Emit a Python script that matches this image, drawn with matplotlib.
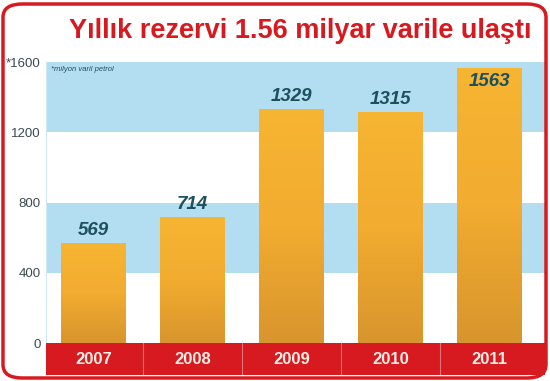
import matplotlib.pyplot as plt
import numpy as np
from matplotlib.patches import FancyBboxPatch, Rectangle
from matplotlib.colors import LinearSegmentedColormap

years = ["2007", "2008", "2009", "2010", "2011"]
reserves = [569, 714, 1329, 1315, 1563]
tick_vals = [0, 400, 800, 1200, 1600]
tick_labels = ["0", "400", "800", "1200", "*1600"]
bands = [(400, 800), (1200, 1600)]

RED = "#d71920"
TEAL = "#1d4f5c"
FONT = ["Liberation Sans", "DejaVu Sans"]

W, H = 550, 381
fig = plt.figure(figsize=(W / 100, H / 100), dpi=100)

# outer rounded frame (drawn on top, no fill)
frame = FancyBboxPatch((3 / W, 3 / H), 543 / W, 374 / H,
                       boxstyle="round,pad=0,rounding_size=0.035",
                       transform=fig.transFigure, facecolor="none",
                       edgecolor=RED, linewidth=2.5, zorder=5)
fig.patches.append(frame)

fig.text(300 / W, 1 - 31 / H, "Yıllık rezervi 1.56 milyar varile ulaştı",
         ha="center", va="center", color=RED, fontsize=19.5,
         fontweight="bold", family=FONT)

x = np.arange(len(years))
ax = fig.add_axes([46 / W, 1 - 343 / H, 499 / W, 281 / H])
for lo, hi in bands:
    ax.axhspan(lo, hi, color="#b3def2", zorder=0, lw=0)

# orange bars with a vertical gradient
grad = np.linspace(0, 1, 256).reshape(-1, 1)
cmap = LinearSegmentedColormap.from_list("org", ["#d8952d", "#f2ac30", "#f6b532"])
bw = 0.65
for xi, v in zip(x, reserves):
    ax.imshow(grad, extent=(xi - bw / 2, xi + bw / 2, 0, v), origin="lower",
              aspect="auto", cmap=cmap, zorder=2)
    # the tallest bar has its label tucked inside, as in the original
    inside = v > 1500
    ax.text(xi, v - 25 if inside else v + 25, str(v), ha="center",
            va="top" if inside else "bottom", fontsize=13.5,
            fontweight="bold", style="italic", color=TEAL, family=FONT,
            zorder=3)
ax.set_xlim(-0.48, 4.56)
ax.set_ylim(0, 1600)

ax.text(-0.43, 1575, "*milyon varil petrol", fontsize=5.5, style="italic",
        color=TEAL, family=FONT, va="top", ha="left")

ax.set_yticks(tick_vals)
ax.set_yticklabels(tick_labels, family=FONT, fontsize=9.5, color="#3a4a4f")
ax.set_xticks([])
ax.tick_params(axis="y", length=0, pad=4)
for s in ["top", "right", "bottom"]:
    ax.spines[s].set_visible(False)
ax.spines["left"].set_color("#cfe8f3")

# red category strip
cax = fig.add_axes([46 / W, 1 - 375 / H, 499 / W, 32 / H])
cax.set_xlim(-0.48, 4.56)
cax.set_ylim(0, 1)
cax.axis("off")
cax.add_patch(Rectangle((-0.48, 0), 5.04, 1, color=RED, lw=0))
for xi, yr in zip(x, years):
    cax.text(xi, 0.48, yr, ha="center", va="center", color="#fbeee6",
             fontsize=12, fontweight="bold", family=FONT)
for xi in x[:-1]:
    cax.axvline(xi + 0.5, color="#e8707a", lw=0.8)

fig.savefig("out.png", dpi=100)
